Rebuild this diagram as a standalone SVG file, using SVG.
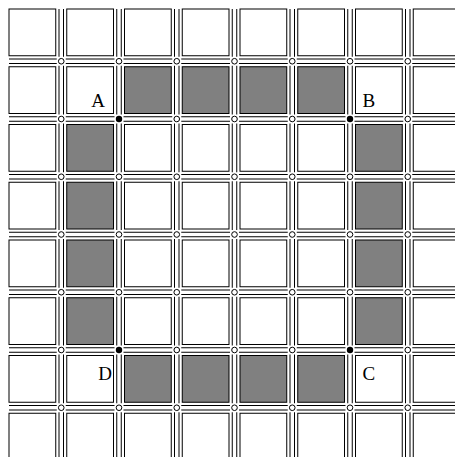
<svg xmlns="http://www.w3.org/2000/svg" width="455" height="457" viewBox="0 0 455 457">
<style>
.w{fill:#fff;stroke:#000;stroke-width:1}
.g{fill:#808080;stroke:#000;stroke-width:1}
.sv{stroke:#000;stroke-width:1;fill:none;stroke-dasharray:48.75 9;stroke-dashoffset:1}
.o{fill:#fff;stroke:#000;stroke-width:1}
.f{fill:#000}
.lbl{font-family:"Liberation Serif","Times New Roman",serif;font-size:19px;fill:#000}
</style>
<rect width="455" height="457" fill="#fff"/>
<g id="blocks">
<rect class="w" x="9" y="9" width="46.75" height="46.75"/>
<rect class="w" x="66.75" y="9" width="46.75" height="46.75"/>
<rect class="w" x="124.5" y="9" width="46.75" height="46.75"/>
<rect class="w" x="182.25" y="9" width="46.75" height="46.75"/>
<rect class="w" x="240" y="9" width="46.75" height="46.75"/>
<rect class="w" x="297.75" y="9" width="46.75" height="46.75"/>
<rect class="w" x="355.5" y="9" width="46.75" height="46.75"/>
<rect class="w" x="413.25" y="9" width="46.75" height="46.75"/>

<rect class="w" x="9" y="66.75" width="46.75" height="46.75"/>
<rect class="w" x="66.75" y="66.75" width="46.75" height="46.75"/>
<rect class="g" x="124.5" y="66.75" width="46.75" height="46.75"/>
<rect class="g" x="182.25" y="66.75" width="46.75" height="46.75"/>
<rect class="g" x="240" y="66.75" width="46.75" height="46.75"/>
<rect class="g" x="297.75" y="66.75" width="46.75" height="46.75"/>
<rect class="w" x="355.5" y="66.75" width="46.75" height="46.75"/>
<rect class="w" x="413.25" y="66.75" width="46.75" height="46.75"/>

<rect class="w" x="9" y="124.5" width="46.75" height="46.75"/>
<rect class="g" x="66.75" y="124.5" width="46.75" height="46.75"/>
<rect class="w" x="124.5" y="124.5" width="46.75" height="46.75"/>
<rect class="w" x="182.25" y="124.5" width="46.75" height="46.75"/>
<rect class="w" x="240" y="124.5" width="46.75" height="46.75"/>
<rect class="w" x="297.75" y="124.5" width="46.75" height="46.75"/>
<rect class="g" x="355.5" y="124.5" width="46.75" height="46.75"/>
<rect class="w" x="413.25" y="124.5" width="46.75" height="46.75"/>

<rect class="w" x="9" y="182.25" width="46.75" height="46.75"/>
<rect class="g" x="66.75" y="182.25" width="46.75" height="46.75"/>
<rect class="w" x="124.5" y="182.25" width="46.75" height="46.75"/>
<rect class="w" x="182.25" y="182.25" width="46.75" height="46.75"/>
<rect class="w" x="240" y="182.25" width="46.75" height="46.75"/>
<rect class="w" x="297.75" y="182.25" width="46.75" height="46.75"/>
<rect class="g" x="355.5" y="182.25" width="46.75" height="46.75"/>
<rect class="w" x="413.25" y="182.25" width="46.75" height="46.75"/>

<rect class="w" x="9" y="240" width="46.75" height="46.75"/>
<rect class="g" x="66.75" y="240" width="46.75" height="46.75"/>
<rect class="w" x="124.5" y="240" width="46.75" height="46.75"/>
<rect class="w" x="182.25" y="240" width="46.75" height="46.75"/>
<rect class="w" x="240" y="240" width="46.75" height="46.75"/>
<rect class="w" x="297.75" y="240" width="46.75" height="46.75"/>
<rect class="g" x="355.5" y="240" width="46.75" height="46.75"/>
<rect class="w" x="413.25" y="240" width="46.75" height="46.75"/>

<rect class="w" x="9" y="297.75" width="46.75" height="46.75"/>
<rect class="g" x="66.75" y="297.75" width="46.75" height="46.75"/>
<rect class="w" x="124.5" y="297.75" width="46.75" height="46.75"/>
<rect class="w" x="182.25" y="297.75" width="46.75" height="46.75"/>
<rect class="w" x="240" y="297.75" width="46.75" height="46.75"/>
<rect class="w" x="297.75" y="297.75" width="46.75" height="46.75"/>
<rect class="g" x="355.5" y="297.75" width="46.75" height="46.75"/>
<rect class="w" x="413.25" y="297.75" width="46.75" height="46.75"/>

<rect class="w" x="9" y="355.5" width="46.75" height="46.75"/>
<rect class="w" x="66.75" y="355.5" width="46.75" height="46.75"/>
<rect class="g" x="124.5" y="355.5" width="46.75" height="46.75"/>
<rect class="g" x="182.25" y="355.5" width="46.75" height="46.75"/>
<rect class="g" x="240" y="355.5" width="46.75" height="46.75"/>
<rect class="g" x="297.75" y="355.5" width="46.75" height="46.75"/>
<rect class="w" x="355.5" y="355.5" width="46.75" height="46.75"/>
<rect class="w" x="413.25" y="355.5" width="46.75" height="46.75"/>

<rect class="w" x="9" y="413.25" width="46.75" height="46.75"/>
<rect class="w" x="66.75" y="413.25" width="46.75" height="46.75"/>
<rect class="w" x="124.5" y="413.25" width="46.75" height="46.75"/>
<rect class="w" x="182.25" y="413.25" width="46.75" height="46.75"/>
<rect class="w" x="240" y="413.25" width="46.75" height="46.75"/>
<rect class="w" x="297.75" y="413.25" width="46.75" height="46.75"/>
<rect class="w" x="355.5" y="413.25" width="46.75" height="46.75"/>
<rect class="w" x="413.25" y="413.25" width="46.75" height="46.75"/>
</g>
<g id="streets">
<path class="sv" d="M59 9V460M63.5 9V460M116.75 9V460M121.25 9V460M174.5 9V460M179 9V460M232.25 9V460M236.75 9V460M290 9V460M294.5 9V460M347.75 9V460M352.25 9V460M405.5 9V460M410 9V460"/>
<path class="sv" d="M9 59H460M9 63.5H460M9 116.75H460M9 121.25H460M9 174.5H460M9 179H460M9 232.25H460M9 236.75H460M9 290H460M9 294.5H460M9 347.75H460M9 352.25H460M9 405.5H460M9 410H460"/>
</g>
<g id="intersections">
<circle class="o" cx="61.25" cy="61.25" r="2.8"/><circle class="o" cx="119" cy="61.25" r="2.8"/><circle class="o" cx="176.75" cy="61.25" r="2.8"/><circle class="o" cx="234.5" cy="61.25" r="2.8"/><circle class="o" cx="292.25" cy="61.25" r="2.8"/><circle class="o" cx="350" cy="61.25" r="2.8"/><circle class="o" cx="407.75" cy="61.25" r="2.8"/>
<circle class="o" cx="61.25" cy="119" r="2.8"/><circle class="f" cx="119" cy="119" r="3.2"/><circle class="o" cx="176.75" cy="119" r="2.8"/><circle class="o" cx="234.5" cy="119" r="2.8"/><circle class="o" cx="292.25" cy="119" r="2.8"/><circle class="f" cx="350" cy="119" r="3.2"/><circle class="o" cx="407.75" cy="119" r="2.8"/>
<circle class="o" cx="61.25" cy="176.75" r="2.8"/><circle class="o" cx="119" cy="176.75" r="2.8"/><circle class="o" cx="176.75" cy="176.75" r="2.8"/><circle class="o" cx="234.5" cy="176.75" r="2.8"/><circle class="o" cx="292.25" cy="176.75" r="2.8"/><circle class="o" cx="350" cy="176.75" r="2.8"/><circle class="o" cx="407.75" cy="176.75" r="2.8"/>
<circle class="o" cx="61.25" cy="234.5" r="2.8"/><circle class="o" cx="119" cy="234.5" r="2.8"/><circle class="o" cx="176.75" cy="234.5" r="2.8"/><circle class="o" cx="234.5" cy="234.5" r="2.8"/><circle class="o" cx="292.25" cy="234.5" r="2.8"/><circle class="o" cx="350" cy="234.5" r="2.8"/><circle class="o" cx="407.75" cy="234.5" r="2.8"/>
<circle class="o" cx="61.25" cy="292.25" r="2.8"/><circle class="o" cx="119" cy="292.25" r="2.8"/><circle class="o" cx="176.75" cy="292.25" r="2.8"/><circle class="o" cx="234.5" cy="292.25" r="2.8"/><circle class="o" cx="292.25" cy="292.25" r="2.8"/><circle class="o" cx="350" cy="292.25" r="2.8"/><circle class="o" cx="407.75" cy="292.25" r="2.8"/>
<circle class="o" cx="61.25" cy="350" r="2.8"/><circle class="f" cx="119" cy="350" r="3.2"/><circle class="o" cx="176.75" cy="350" r="2.8"/><circle class="o" cx="234.5" cy="350" r="2.8"/><circle class="o" cx="292.25" cy="350" r="2.8"/><circle class="f" cx="350" cy="350" r="3.2"/><circle class="o" cx="407.75" cy="350" r="2.8"/>
<circle class="o" cx="61.25" cy="407.75" r="2.8"/><circle class="o" cx="119" cy="407.75" r="2.8"/><circle class="o" cx="176.75" cy="407.75" r="2.8"/><circle class="o" cx="234.5" cy="407.75" r="2.8"/><circle class="o" cx="292.25" cy="407.75" r="2.8"/><circle class="o" cx="350" cy="407.75" r="2.8"/><circle class="o" cx="407.75" cy="407.75" r="2.8"/>
</g>
<g id="labels">
<text class="lbl" x="105" y="107" text-anchor="end">A</text>
<text class="lbl" x="362.5" y="107">B</text>
<text class="lbl" x="362.5" y="380">C</text>
<text class="lbl" x="112" y="380" text-anchor="end">D</text>
</g>
</svg>
